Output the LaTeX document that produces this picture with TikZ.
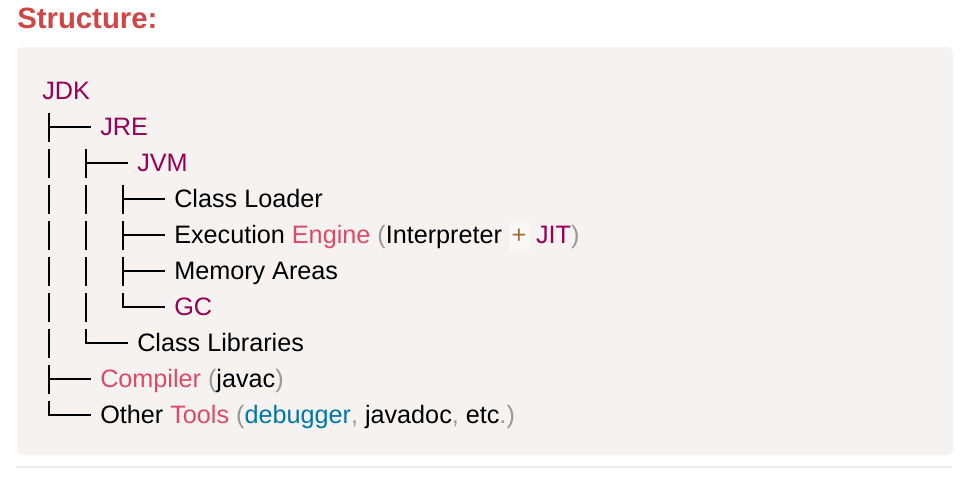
\documentclass[tikz,border=0pt]{standalone}
\usepackage{fontspec}
\setmainfont{Liberation Sans}
\usepackage{tikz}

\definecolor{codebg}{HTML}{F5F2F0}
\definecolor{sepgray}{HTML}{EBEBEB}
\definecolor{titlered}{HTML}{D04545}
\definecolor{kwclr}{HTML}{990055}
\definecolor{fnclr}{HTML}{DD4A68}
\definecolor{varclr}{HTML}{0077AA}
\definecolor{punclr}{HTML}{999999}
\definecolor{opclr}{HTML}{9A6E3A}
\definecolor{opbg}{HTML}{FAF8F7}

\newcommand{\kw}[1]{\textcolor{kwclr}{#1}}
\newcommand{\fn}[1]{\textcolor{fnclr}{#1}}
\newcommand{\vr}[1]{\textcolor{varclr}{#1}}
\newcommand{\pn}[1]{\textcolor{punclr}{#1}}
\newcommand{\opbox}[1]{{\setlength{\fboxsep}{2pt}\colorbox{opbg}{\vphantom{(}\textcolor{opclr}{#1}}}}

\begin{document}
\begin{tikzpicture}[x=0.75pt,y=0.75pt,yscale=-1,xscale=1,
  txt/.style={anchor=base west,inner sep=0pt,font=\fontsize{18.9pt}{22pt}\selectfont},
  tree/.style={line width=1pt,line cap=butt}]
\useasboundingbox (0,0) rectangle (973,490);

%Code block
\fill [codebg, rounded corners=4pt] (17,47) rectangle (953,455);
%Separator
\fill [sepgray] (16,466) rectangle (952,468);

% Title
\node (title) [txt, font=\fontsize{22pt}{26pt}\selectfont\bfseries, text=titlered] at (17,28) {Structure:};

%Tree bars
\foreach \y in {127,163,...,379} \draw [tree] (49,\y-14) -- (49,\y+15);
\foreach \y in {163,199,...,307} \draw [tree] (86,\y-14) -- (86,\y+15);
\foreach \y in {199,235,271} \draw [tree] (123,\y-14) -- (123,\y+15);
%Tree arms
\foreach \x/\y in {49/127,49/379,86/163,123/199,123/235,123/271}
  \draw [tree] (\x,\y) -- (\x+42,\y);
%Tree corners
\draw [tree] (123,293) -- (123,307) -- (165,307);
\draw [tree] (86,329) -- (86,343) -- (128,343);
\draw [tree] (49,401) -- (49,415) -- (91,415);

% Text Node
\node (jdk) [txt] at (42,99.5) {\kw{JDK}};
% Text Node
\node (jre) [txt] at (100,135.5) {\kw{JRE}};
% Text Node
\node (jvm) [txt] at (137,171.5) {\kw{JVM}};
% Text Node
\node (loader) [txt] at (174,207.5) {Class Loader};
% Text Node
\node (engine) [txt] at (174,243.5) {Execution \fn{Engine} \pn{(}Interpreter \opbox{+} \kw{JIT}\pn{)}};
% Text Node
\node (memory) [txt] at (174,279.5) {Memory Areas};
% Text Node
\node (gc) [txt] at (174,315.5) {\kw{GC}};
% Text Node
\node (libs) [txt] at (137,351.5) {Class Libraries};
% Text Node
\node (javac) [txt] at (100,387.5) {\fn{Compiler} \pn{(}javac\pn{)}};
% Text Node
\node (tools) [txt] at (100,423.5) {Other \fn{Tools} \pn{(}\vr{debugger}\pn{,} javadoc\pn{,} etc\pn{.)}};

\end{tikzpicture}
\end{document}
